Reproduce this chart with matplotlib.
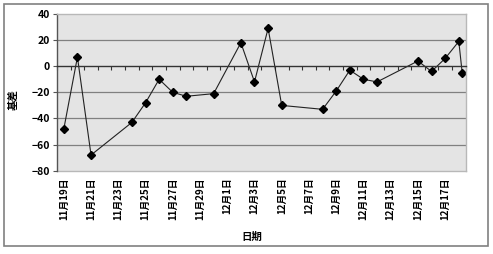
import numpy as np
import matplotlib
matplotlib.use('Agg')
import matplotlib.pyplot as plt
from matplotlib.patches import Rectangle

plt.rcParams['font.family'] = ['Noto Sans CJK SC', 'DejaVu Sans']
plt.rcParams['font.weight'] = 'bold'

# 日期: 从11月19日起的天数, 基差数值
day_offset = [0, 1, 2, 5, 6, 7, 8, 9, 11, 13, 14, 15, 16, 19, 20, 21, 22, 23,
              26, 27, 28, 29, 29.25]
basis = [-48, 7, -68, -43, -28, -10, -20, -23, -21, 18, -12, 29, -30, -33,
         -19, -3, -10, -12, 4, -4, 6, 19, -5]

tick_days = list(range(0, 29, 2))
tick_labels = ['11月19日', '11月21日', '11月23日', '11月25日', '11月27日',
               '11月29日', '12月1日', '12月3日', '12月5日', '12月7日',
               '12月9日', '12月11日', '12月13日', '12月15日', '12月17日']

fig = plt.figure(figsize=(4.93, 2.54), dpi=100)
fig.patches.append(Rectangle((3.5 / 493, 8 / 254), 484 / 493, 242 / 254,
                             transform=fig.transFigure, fill=False,
                             edgecolor='#808080', linewidth=1.2))

ax = fig.add_axes([57 / 493, 1 - 170.7 / 254, 408.6 / 493, 156.7 / 254])
ax.set_facecolor('#e4e4e4')

ax.plot(day_offset, basis, color='#222222', linewidth=0.8, marker='D',
        markersize=4.5, markerfacecolor='black', markeredgecolor='black')

ax.set_xlim(-0.5, 29.5)
ax.set_ylim(-80, 40)
ax.set_yticks(np.arange(-80, 41, 20))
for y in [-60, -40, -20, 20]:
    ax.axhline(y, color='#808080', linewidth=0.9, zorder=0.5)

# x axis line crosses at zero, ticks at day boundaries
ax.spines['bottom'].set_position(('data', 0))
ax.spines['bottom'].set_color('#333333')
ax.spines['bottom'].set_linewidth(1.0)
ax.set_xticks([])
ax.set_xticks(np.arange(-0.5, 30, 1), minor=True)
ax.tick_params(axis='x', which='minor', direction='out', length=3,
               width=0.8, color='#333333')

ax.spines['left'].set_color('#555555')
ax.spines['left'].set_linewidth(1.0)
for s in ['top', 'right']:
    ax.spines[s].set_color('#b8b8b8')
    ax.spines[s].set_linewidth(1.0)
ax.tick_params(axis='y', direction='out', length=3, width=0.8,
               color='#555555', labelsize=7.5, pad=2)

sec = ax.secondary_xaxis('bottom')
sec.set_xticks(tick_days)
sec.set_xticklabels(tick_labels, rotation=90, fontsize=7, fontweight='bold')
sec.tick_params(length=0, pad=5)
sec.spines['bottom'].set_color('#b8b8b8')
sec.spines['bottom'].set_linewidth(1.0)

fig.text(252 / 493, 1 - 237 / 254, '日期', ha='center', va='center',
         fontsize=7.5, fontweight='bold')
fig.text(14 / 493, 1 - 100 / 254, '基差', ha='center', va='center',
         rotation=90, fontsize=7.5, fontweight='bold')

fig.savefig('out.png', dpi=100)
